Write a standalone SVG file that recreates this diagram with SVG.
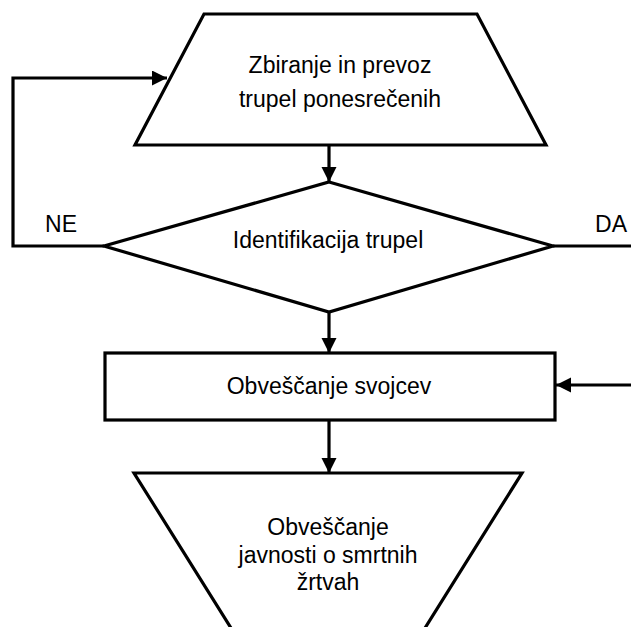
<svg xmlns="http://www.w3.org/2000/svg" width="631" height="627" viewBox="0 0 631 627">
<style>
.shape{fill:#fff;stroke:#000;stroke-width:3.2;stroke-linejoin:miter}
.conn{fill:none;stroke:#000;stroke-width:3.2}
text{font-family:"Liberation Sans",Arial,sans-serif;font-size:23px;fill:#000;text-anchor:middle}
</style>
<defs>
<marker id="ah" markerUnits="userSpaceOnUse" markerWidth="16" markerHeight="16" refX="15" refY="7.5" orient="auto">
<path d="M0,0 L15,7.5 L0,15 Z" fill="#000"/>
</marker>
</defs>
<rect width="631" height="627" fill="#fff"/>
<g id="connectors">
<line class="conn" x1="329" y1="145" x2="329" y2="182" marker-end="url(#ah)"/>
<polyline class="conn" points="104,246 13,246 13,78 167,78" marker-end="url(#ah)"/>
<line class="conn" x1="553" y1="246" x2="631" y2="246"/>
<line class="conn" x1="329" y1="312" x2="329" y2="353" marker-end="url(#ah)"/>
<line class="conn" x1="631" y1="385" x2="556" y2="385" marker-end="url(#ah)"/>
<line class="conn" x1="329" y1="421" x2="329" y2="473" marker-end="url(#ah)"/>
</g>
<g id="node-zbiranje">
<polygon class="shape" points="204,14 477,14 546,145 135,145"/>
<text x="340" y="73">Zbiranje in prevoz</text>
<text x="340" y="107">trupel ponesrečenih</text>
</g>
<g id="node-identifikacija">
<polygon class="shape" points="329,182 553,246 329,312 104,246"/>
<text x="328" y="248">Identifikacija trupel</text>
</g>
<g id="label-ne"><text x="61" y="232">NE</text></g>
<g id="label-da"><text x="611" y="232">DA</text></g>
<g id="node-obvescanje-svojcev">
<rect class="shape" x="105" y="353" width="450" height="67"/>
<text x="329" y="394">Obveščanje svojcev</text>
</g>
<g id="node-obvescanje-javnosti">
<polygon class="shape" points="134,473 522,473 405,660 251,660"/>
<text x="328" y="535">Obveščanje</text>
<text x="328" y="563">javnosti o smrtnih</text>
<text x="328" y="590">žrtvah</text>
</g>
</svg>
